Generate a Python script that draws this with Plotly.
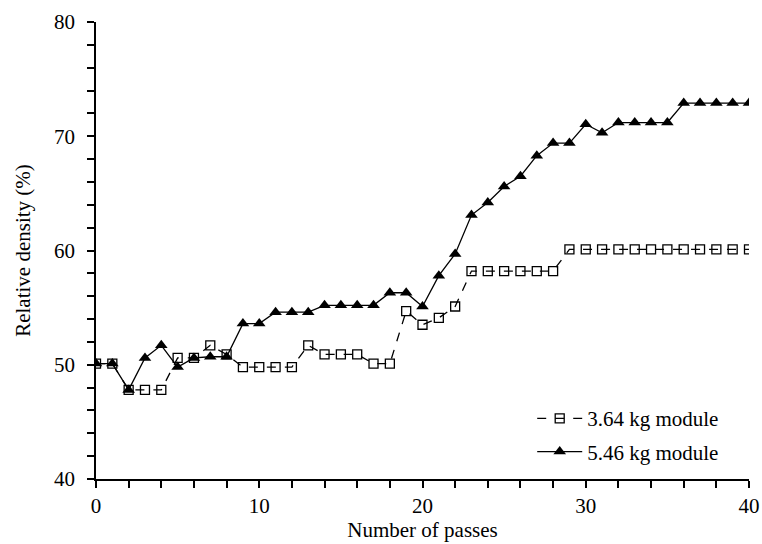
import plotly.graph_objects as go

passes = list(range(0, 41))
module_364 = [50.1, 50.1, 47.8, 47.8, 47.8, 50.6, 50.6, 51.7, 50.9, 49.8,
              49.8, 49.8, 49.8, 51.7, 50.9, 50.9, 50.9, 50.1, 50.1, 54.7,
              53.5, 54.1, 55.1, 58.2, 58.2, 58.2, 58.2, 58.2, 58.2, 60.1,
              60.1, 60.1, 60.1, 60.1, 60.1, 60.1, 60.1, 60.1, 60.1, 60.1, 60.1]
module_546 = [50.1, 50.1, 47.8, 50.6, 51.7, 49.8, 50.6, 50.7, 50.7, 53.6,
              53.6, 54.6, 54.6, 54.6, 55.2, 55.2, 55.2, 55.2, 56.3, 56.3,
              55.1, 57.8, 59.7, 63.1, 64.2, 65.6, 66.5, 68.3, 69.4, 69.4,
              71.05, 70.3, 71.2, 71.2, 71.2, 71.2, 72.9, 72.9, 72.9, 72.9, 72.9]

FONT = "Liberation Serif"
FS = 21

fig = go.Figure()
fig.add_trace(go.Scatter(
    x=passes, y=module_364, name="3.64 kg module", mode="lines+markers",
    legendgroup="a",
    line=dict(color="black", width=1.3, dash="dash"),
    marker=dict(symbol="square-open", size=9, color="black", line=dict(width=1.3, color="black")),
))
fig.add_trace(go.Scatter(
    x=passes, y=module_546, name="5.46 kg module", mode="lines+markers",
    legendgroup="b",
    line=dict(color="black", width=1.3),
    marker=dict(symbol="triangle-up", size=11, color="black"),
))

axis_common = dict(
    showline=True, linecolor="black", linewidth=1.5, showgrid=False, zeroline=False,
    ticks="outside", ticklen=7, tickwidth=1.5, tickcolor="black",
    tickfont=dict(family=FONT, size=FS, color="black"),
    title_font=dict(family=FONT, size=FS, color="black"),
)

fig.update_xaxes(range=[0, 40], dtick=10, tick0=0,
                 minor=dict(dtick=2, ticks="outside", ticklen=7, tickwidth=1.5, tickcolor="black"),
                 title_text="Number of passes", title_standoff=2, ticklabelstandoff=0,
                 **axis_common)
fig.update_yaxes(range=[40, 80], dtick=10, tick0=0,
                 minor=dict(dtick=2, ticks="outside", ticklen=7, tickwidth=1.5, tickcolor="black"),
                 title_text="Relative density (%)", title_standoff=18, ticklabelstandoff=8,
                 **axis_common)

fig.update_layout(
    width=762, height=544,
    margin=dict(l=96, r=13, t=22, b=65, autoexpand=False),
    plot_bgcolor="white", paper_bgcolor="white",
    font=dict(family=FONT, size=FS, color="black"),
    legend=dict(x=0.668, y=0.015, xanchor="left", yanchor="bottom",
                bgcolor="rgba(0,0,0,0)", tracegroupgap=3, traceorder="grouped",
                itemwidth=45,
                font=dict(family=FONT, size=FS, color="black")),
)

fig.write_html("out.html")
